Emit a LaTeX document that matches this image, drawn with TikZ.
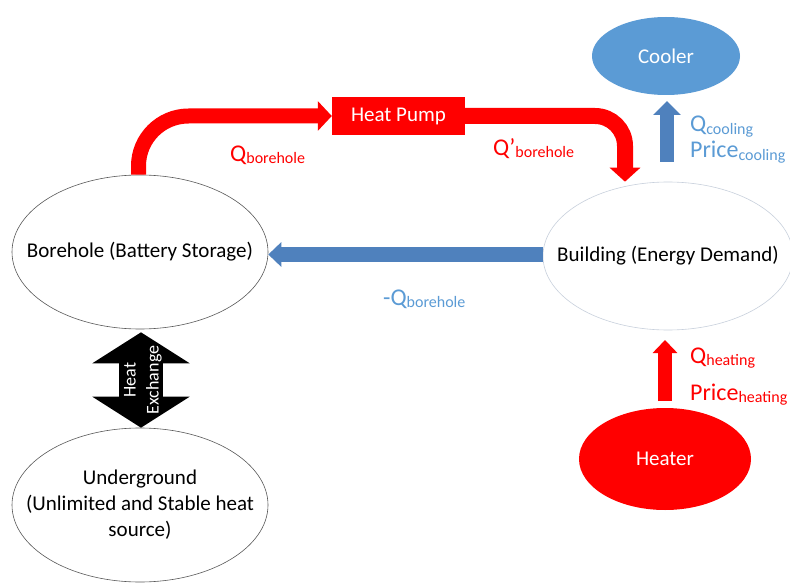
\documentclass[tikz,border=0pt]{standalone}
\usepackage{fontspec}
\setmainfont{Carlito}
\usetikzlibrary{shapes.geometric,arrows.meta}
\definecolor{myred}{HTML}{FF0000}
\definecolor{arrblue}{HTML}{4F81BD}
\definecolor{lblblue}{HTML}{5B9BD5}
\definecolor{coolfill}{HTML}{5B9BD5}
\definecolor{bldgline}{HTML}{C8D0DC}
\newcommand{\lblmain}[1]{{\fontsize{24}{28}\selectfont #1}}
\newcommand{\lblsub}[1]{\raisebox{-2pt}{\fontsize{16}{18}\selectfont #1}}
\newcommand{\zw}[1]{\makebox[0pt]{#1}}
\begin{document}
\begin{tikzpicture}[x=1pt,y=-1pt,
  oval/.style={ellipse,inner sep=0pt,font=\fontsize{21}{25}\selectfont},
  lbl/.style={anchor=base west,inner sep=0pt},
  redflow/.style={draw=myred,line width=15pt},
  blueflow/.style={draw=arrblue,line width=15pt}]
\useasboundingbox (0,0) rectangle (790,583);
\fill[white] (0,0) rectangle (790,583);
% nodes
\node[oval,draw=black!65,line width=0.6pt,minimum width=256pt,minimum height=154pt] (bore) at (140,252) {\zw{Borehole (Battery Storage)}};
\node[oval,draw=black!65,line width=0.6pt,minimum width=256pt,minimum height=154pt] (ug) at (140,505) {\zw{\renewcommand{\arraystretch}{1.05}\begin{tabular}{@{}c@{}}Underground\\(Unlimited and Stable heat\\source)\end{tabular}}};
\node[oval,draw=bldgline,line width=0.6pt,minimum width=250pt,minimum height=148pt] (bldg) at (668,256) {\zw{Building (Energy Demand)}};
\node[oval,fill=coolfill,text=white,minimum width=148pt,minimum height=78pt] (cooler) at (666,56) {\zw{Cooler}};
\node[oval,fill=myred,text=white,minimum width=172pt,minimum height=102pt] (heater) at (665,459) {\zw{Heater}};
\node[fill=myred,text=white,font=\fontsize{21}{25}\selectfont,minimum width=133pt,minimum height=38pt,inner sep=0pt] (hp) at (398.5,116) {Heat Pump};
% red flows
\draw[redflow,rounded corners=50pt,-{Triangle[length=14pt,width=29pt]}] ([xshift=-1.5pt]bore.north) |- (hp.west);
\draw[redflow,line width=16pt,rounded corners=30pt,-{Triangle[length=14pt,width=30pt]}] (hp.east) -| ([xshift=-43pt]bldg.north);
% blue return flow
\draw[blueflow,-{Triangle[length=13pt,width=24pt]}] ([yshift=1.5pt]bldg.west) -- ([yshift=1.5pt]bldg.west -| bore.east);
% cooler arrow
\coordinate (cs) at (667,162);
\coordinate (ct) at (667,101);
\draw[draw=arrblue,line width=14pt,-{Triangle[length=14pt,width=27pt]}] (cs) -- (ct);
% heater arrow
\coordinate (hs) at (665,401);
\coordinate (ht) at (665,340);
\draw[draw=myred,line width=14pt,-{Triangle[length=13pt,width=24pt]}] (hs) -- (ht);
% heat exchange
\draw[draw=black,line width=44pt,{Triangle[length=31pt,width=96pt]}-{Triangle[length=31pt,width=96pt]}] ([xshift=1pt,yshift=-3pt]bore.south) -- ([xshift=1pt]ug.north);
\node[rotate=90,text=white,align=center,font=\fontsize{18}{23}\selectfont,inner sep=0pt] (hx) at (143,380) {Heat\\Exchange};
% labels
\node[lbl,text=myred] (l1) at (230,161) {\lblmain{Q}\lblsub{borehole}};
\node[lbl,text=myred] (l2) at (493,156) {\lblmain{Q’}\lblsub{borehole}};
\node[lbl,text=lblblue] (l3) at (383,305) {\lblmain{-Q}\lblsub{borehole}};
\node[lbl,text=lblblue] (l4) at (690,132) {\lblmain{Q}\lblsub{cooling}};
\node[lbl,text=lblblue] (l5) at (690,158) {\lblmain{Price}\lblsub{cooling}};
\node[lbl,text=myred] (l6) at (690,363) {\lblmain{Q}\lblsub{heating}};
\node[lbl,text=myred] (l7) at (690,400) {\lblmain{Price}\lblsub{heating}};
\end{tikzpicture}
\end{document}
